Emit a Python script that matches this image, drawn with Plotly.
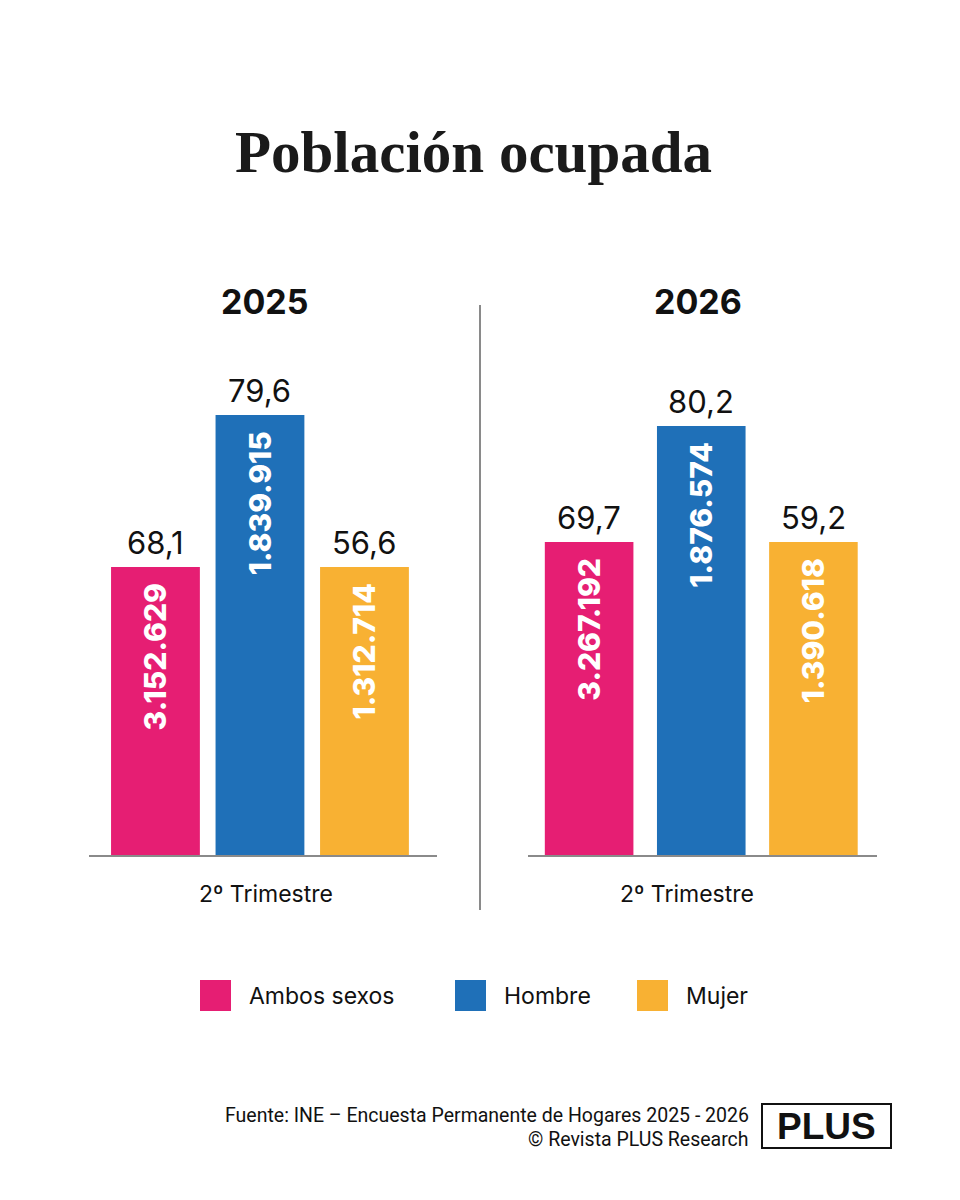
import plotly.graph_objects as go

# Datos
anios = ["2025", "2026"]
categorias = ["Ambos sexos", "Hombre", "Mujer"]
colores = ["#E61E73", "#1F70B8", "#F8B133"]
tasas = [["68,1", "79,6", "56,6"], ["69,7", "80,2", "59,2"]]
ocupados = [["3.152.629", "1.839.915", "1.312.714"], ["3.267.192", "1.876.574", "1.390.618"]]
# altura visual de las barras tal como aparecen en la gráfica
alturas = [[288, 440, 288], [313, 429, 313]]
periodo = "2º Trimestre"

SANS = "Inter, Lato, Open Sans, sans-serif"
W, H = 960, 1200
OFF = 8  # margen del body de la pagina


def py(px):
    return 1 - (px - OFF) / H


def px_x(px):
    return (px - OFF) / W


fig = go.Figure()

# dominios de cada panel (en pixeles)
dominios = [(89, 437), (528, 877)]
rangos_x = [[-0.636, 2.694], [-0.545, 2.567]]
anchos = [0.85, 0.79]
centro_anio = [265, 698]
centro_periodo = [266, 687]

for i, anio in enumerate(anios):
    sx = "x" if i == 0 else "x2"
    fig.add_trace(go.Bar(
        x=list(range(len(categorias))),
        y=alturas[i],
        width=anchos[i],
        marker=dict(color=colores, line=dict(width=0)),
        text=ocupados[i],
        texttemplate="%{text}\u00a0\u00a0",
        textposition="inside",
        insidetextanchor="end",
        textangle=-90,
        textfont=dict(family=SANS, size=30, color="white", weight=800),
        xaxis=sx, yaxis="y" if i == 0 else "y2",
        showlegend=False,
        hoverinfo="skip",
    ))
    # valores porcentuales sobre cada barra
    for j, t in enumerate(tasas[i]):
        fig.add_annotation(
            x=j, y=alturas[i][j], xref=sx, yref="y" if i == 0 else "y2",
            text=t, showarrow=False, yanchor="bottom", yshift=4,
            font=dict(family=SANS, size=31, color="#111111"),
        )
    # año y periodo
    fig.add_annotation(
        x=px_x(centro_anio[i]), y=py(301), xref="paper", yref="paper",
        xanchor="center", yanchor="middle",
        text="<b>" + anio + "</b>", showarrow=False,
        font=dict(family=SANS, size=34, color="#111111", weight=800),
    )
    fig.add_annotation(
        x=px_x(centro_periodo[i]), y=py(894), xref="paper", yref="paper",
        xanchor="center", yanchor="middle",
        text=periodo, showarrow=False,
        font=dict(family=SANS, size=23, color="#111111"),
    )

eje_x = dict(showgrid=False, zeroline=False, showticklabels=False, ticks="",
             showline=True, linecolor="#8A8A8A", linewidth=2, fixedrange=True)
eje_y = dict(showgrid=False, zeroline=False, showticklabels=False, ticks="",
             showline=False, range=[0, 555], fixedrange=True,
             domain=[py(855), py(300)])

fig.update_layout(
    width=W, height=H,
    margin=dict(l=0, r=0, t=0, b=0),
    paper_bgcolor="white", plot_bgcolor="white",
    xaxis=dict(eje_x, domain=[px_x(dominios[0][0]), px_x(dominios[0][1])], range=rangos_x[0]),
    xaxis2=dict(eje_x, domain=[px_x(dominios[1][0]), px_x(dominios[1][1])], range=rangos_x[1], anchor="y2"),
    yaxis=dict(eje_y, anchor="x"),
    yaxis2=dict(eje_y, anchor="x2"),
)

# título
fig.add_annotation(
    x=px_x(473), y=py(152), xref="paper", yref="paper",
    xanchor="center", yanchor="middle",
    text="<b>Población ocupada</b>", showarrow=False,
    font=dict(family="Liberation Serif, DejaVu Serif, serif", size=59, color="#1A1A1A"),
)

# separador vertical
fig.add_shape(type="line", xref="paper", yref="paper",
              x0=px_x(480), x1=px_x(480), y0=py(305), y1=py(910),
              line=dict(color="#8A8A8A", width=2))

# leyenda
ley_x = [200, 455, 637]
for k, cat in enumerate(categorias):
    fig.add_shape(type="rect", xref="paper", yref="paper",
                  x0=px_x(ley_x[k]), x1=px_x(ley_x[k] + 31),
                  y0=py(1011), y1=py(980),
                  fillcolor=colores[k], line=dict(width=0))
    fig.add_annotation(
        x=px_x(ley_x[k] + 47), y=py(996), xref="paper", yref="paper",
        text=cat, showarrow=False, xanchor="left", yanchor="middle",
        font=dict(family=SANS, size=23, color="#111111"),
    )

# fuente
FOOT = "Liberation Sans Narrow, Roboto, sans-serif"
fig.add_annotation(
    x=px_x(751), y=py(1115), xref="paper", yref="paper",
    xanchor="right", yanchor="middle",
    text="Fuente: INE – Encuesta Permanente de Hogares 2025 - 2026",
    showarrow=False, font=dict(family=FOOT, size=19.5, color="#111111"),
)
fig.add_annotation(
    x=px_x(751), y=py(1139), xref="paper", yref="paper",
    xanchor="right", yanchor="middle",
    text="© Revista PLUS Research",
    showarrow=False, font=dict(family=FOOT, size=19.5, color="#111111"),
)
fig.add_shape(type="rect", xref="paper", yref="paper",
              x0=px_x(762), x1=px_x(891), y0=py(1148), y1=py(1104),
              line=dict(color="#111111", width=2), fillcolor="white")
fig.add_annotation(
    x=px_x(826.5), y=py(1126), xref="paper", yref="paper",
    xanchor="center", yanchor="middle",
    text="<b>PLUS</b>", showarrow=False,
    font=dict(family="Liberation Sans, Arial, sans-serif", size=37, color="#111111"),
)

fig.write_html("out.html")
